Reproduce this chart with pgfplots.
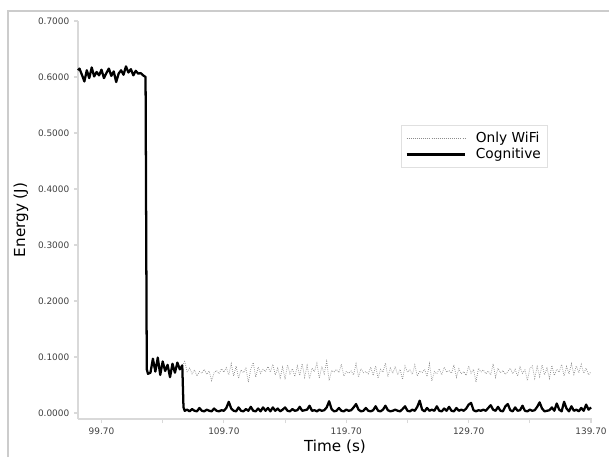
\documentclass[border=0pt]{standalone}
\usepackage{fontspec}
\setmainfont{DejaVu Sans}
\usepackage{pgfplots}
\pgfplotsset{compat=1.18}
\usepackage{pgfplotstable}

\pgfplotstableread{
t e
97.78 0.612
97.9 0.615
98.1 0.604
98.3 0.592
98.5 0.612
98.7 0.598
98.9 0.617
99.1 0.601
99.3 0.609
99.5 0.603
99.7 0.613
99.9 0.598
100.1 0.607
100.3 0.615
100.5 0.602
100.7 0.610
100.9 0.591
101.1 0.606
101.3 0.612
101.5 0.604
101.7 0.619
101.9 0.608
102.1 0.614
102.3 0.603
102.5 0.611
102.7 0.606
102.9 0.607
103.1 0.603
103.3 0.600
103.4 0.078
103.5 0.070
103.7 0.072
103.9 0.097
104.1 0.074
104.3 0.099
104.5 0.068
104.7 0.092
104.9 0.075
105.1 0.086
105.3 0.064
105.5 0.088
105.7 0.072
105.9 0.090
106.1 0.078
106.3 0.085
106.4 0.010
106.5 0.004
106.7 0.006
106.9 0.003
107.1 0.007
107.3 0.004
107.5 0.003
107.7 0.009
107.9 0.004
108.1 0.003
108.3 0.006
108.5 0.004
108.7 0.003
108.9 0.008
109.1 0.004
109.3 0.003
109.5 0.005
109.7 0.004
109.9 0.009
110.1 0.020
110.3 0.008
110.5 0.004
110.7 0.003
110.9 0.010
111.1 0.004
111.3 0.003
111.5 0.007
111.7 0.004
111.9 0.011
112.1 0.004
112.3 0.003
112.5 0.008
112.7 0.003
112.9 0.010
113.1 0.004
113.3 0.009
113.5 0.003
113.7 0.010
113.9 0.004
114.1 0.008
114.3 0.003
114.5 0.006
114.7 0.010
114.9 0.004
115.1 0.003
115.3 0.007
115.5 0.004
115.7 0.005
115.9 0.011
116.1 0.004
116.3 0.005
116.5 0.006
116.7 0.013
116.9 0.004
117.1 0.005
117.3 0.003
117.5 0.006
117.7 0.004
117.9 0.005
118.1 0.010
118.3 0.021
118.5 0.007
118.7 0.003
118.9 0.004
119.1 0.009
119.3 0.004
119.5 0.003
119.7 0.006
119.9 0.004
120.1 0.005
120.3 0.010
120.5 0.016
120.7 0.006
120.9 0.003
121.1 0.004
121.3 0.009
121.5 0.004
121.7 0.003
121.9 0.005
122.1 0.012
122.3 0.004
122.5 0.003
122.7 0.006
122.9 0.013
123.1 0.005
123.3 0.003
123.5 0.004
123.7 0.006
123.9 0.004
124.1 0.003
124.3 0.007
124.5 0.012
124.7 0.004
124.9 0.003
125.1 0.006
125.3 0.004
125.5 0.011
125.7 0.022
125.9 0.006
126.1 0.003
126.3 0.009
126.5 0.004
126.7 0.006
126.9 0.004
127.1 0.012
127.3 0.004
127.5 0.003
127.7 0.008
127.9 0.004
128.1 0.011
128.3 0.004
128.5 0.003
128.7 0.009
128.9 0.004
129.1 0.006
129.3 0.004
129.5 0.008
129.7 0.015
129.9 0.018
130.1 0.005
130.3 0.003
130.5 0.005
130.7 0.004
130.9 0.006
131.1 0.004
131.3 0.009
131.5 0.014
131.7 0.006
131.9 0.004
132.1 0.011
132.3 0.004
132.5 0.003
132.7 0.012
132.9 0.016
133.1 0.005
133.3 0.003
133.5 0.010
133.7 0.004
133.9 0.005
134.1 0.013
134.3 0.004
134.5 0.003
134.7 0.006
134.9 0.004
135.1 0.005
135.3 0.011
135.5 0.019
135.7 0.008
135.9 0.003
136.1 0.004
136.3 0.005
136.5 0.010
136.7 0.004
136.9 0.017
137.1 0.006
137.3 0.003
137.5 0.020
137.7 0.008
137.9 0.003
138.1 0.012
138.3 0.004
138.5 0.006
138.7 0.003
138.9 0.009
139.1 0.004
139.3 0.015
139.5 0.006
139.7 0.010
}\cognitive

\pgfplotstableread{
t e
106.3 0.085
106.5 0.092
106.7 0.074
106.9 0.080
107.1 0.070
107.3 0.077
107.5 0.066
107.7 0.074
107.9 0.071
108.1 0.078
108.3 0.069
108.5 0.075
108.7 0.058
108.9 0.072
109.1 0.076
109.3 0.070
109.5 0.079
109.7 0.073
109.9 0.081
110.1 0.068
110.3 0.088
110.5 0.066
110.7 0.084
110.9 0.062
111.1 0.077
111.3 0.072
111.5 0.080
111.7 0.055
111.9 0.079
112.1 0.090
112.3 0.064
112.5 0.082
112.7 0.071
112.9 0.078
113.1 0.074
113.3 0.083
113.5 0.073
113.7 0.087
113.9 0.068
114.1 0.080
114.3 0.063
114.5 0.082
114.7 0.060
114.9 0.086
115.1 0.070
115.3 0.079
115.5 0.065
115.7 0.084
115.9 0.067
116.1 0.088
116.3 0.064
116.5 0.085
116.7 0.061
116.9 0.080
117.1 0.074
117.3 0.089
117.5 0.062
117.7 0.083
117.9 0.070
118.1 0.092
118.3 0.058
118.5 0.076
118.7 0.073
118.9 0.078
119.1 0.072
119.3 0.087
119.5 0.066
119.7 0.074
119.9 0.071
120.1 0.075
120.3 0.068
120.5 0.088
120.7 0.064
120.9 0.079
121.1 0.072
121.3 0.074
121.5 0.070
121.7 0.082
121.9 0.067
122.1 0.084
122.3 0.062
122.5 0.078
122.7 0.073
122.9 0.089
123.1 0.065
123.3 0.080
123.5 0.071
123.7 0.083
123.9 0.068
124.1 0.078
124.3 0.060
124.5 0.084
124.7 0.073
124.9 0.077
125.1 0.069
125.3 0.086
125.5 0.066
125.7 0.075
125.9 0.072
126.1 0.078
126.3 0.065
126.5 0.088
126.7 0.057
126.9 0.074
127.1 0.070
127.3 0.079
127.5 0.068
127.7 0.082
127.9 0.073
128.1 0.076
128.3 0.071
128.5 0.086
128.7 0.064
128.9 0.079
129.1 0.070
129.3 0.074
129.5 0.067
129.7 0.084
129.9 0.071
130.1 0.078
130.3 0.055
130.5 0.080
130.7 0.073
130.9 0.077
131.1 0.070
131.3 0.075
131.5 0.068
131.7 0.088
131.9 0.064
132.1 0.080
132.3 0.072
132.5 0.076
132.7 0.069
132.9 0.074
133.1 0.080
133.3 0.070
133.5 0.078
133.7 0.066
133.9 0.082
134.1 0.071
134.3 0.077
134.5 0.058
134.7 0.079
134.9 0.084
135.1 0.062
135.3 0.083
135.5 0.065
135.7 0.086
135.9 0.068
136.1 0.080
136.3 0.062
136.5 0.085
136.7 0.067
136.9 0.078
137.1 0.073
137.3 0.087
137.5 0.066
137.7 0.083
137.9 0.070
138.1 0.088
138.3 0.069
138.5 0.084
138.7 0.072
138.9 0.087
139.1 0.071
139.3 0.080
139.5 0.068
139.7 0.074
}\onlywifi

\begin{document}
\begin{tikzpicture}
% page: 609 x 457 px at 0.75pt per px
\useasboundingbox (0pt,0pt) rectangle (456.75pt,342.75pt);
\draw[black!20, line width=0.9pt] (6pt,0pt) -- (6pt,334.5pt) -- (456.75pt,334.5pt);
\begin{axis}[
    at={(58.5pt,28.5pt)}, anchor=south west,
    scale only axis,
    width=385.5pt, height=298.5pt,
    xmin=97.78, xmax=139.78,
    ymin=-0.0107, ymax=0.7,
    axis x line*=bottom, axis y line*=left,
    axis line style={black!15, line width=1.1pt},
    tick align=outside,
    major tick length=3pt, minor tick length=3pt,
    tick style={black!15, line width=0.8pt},
    xtick={99.7,109.7,119.7,129.7,139.7},
    minor xtick={104.7,114.7,124.7,134.7},
    ytick={0,0.1,0.2,0.3,0.4,0.5,0.6,0.7},
    x tick label style={/pgf/number format/fixed,
        /pgf/number format/fixed zerofill, /pgf/number format/precision=2},
    y tick label style={/pgf/number format/fixed,
        /pgf/number format/fixed zerofill, /pgf/number format/precision=4},
    /pgf/number format/assume math mode=true,
    tick label style={font=\fontsize{6.7}{8}\selectfont, text=black!75},
    xlabel={Time (s)}, ylabel={Energy (J)},
    label style={font=\fontsize{11.4}{13}\selectfont},
    xlabel style={at={(axis description cs:0.5,-0.07)}, anchor=center},
    ylabel style={at={(axis description cs:-0.111,0.5)}, anchor=center},
    legend style={at={(0.914,0.739)}, anchor=north east, draw=black!12,
        font=\fontsize{10.3}{12}\selectfont, row sep=-1pt,
        inner xsep=3pt, inner ysep=3pt,
        /tikz/every odd column/.append style={column sep=5pt}},
    legend cell align=left,
    legend image code/.code={\draw[#1] (0pt,0pt) -- (44pt,0pt);},
    clip=false,
]
\addplot[black!45, line width=0.55pt, densely dotted] table[x=t, y=e] {\onlywifi};
\addplot[black, line width=1.7pt, line join=round] table[x=t, y=e] {\cognitive};
\legend{Only WiFi, Cognitive}
\end{axis}
\end{tikzpicture}
\end{document}
